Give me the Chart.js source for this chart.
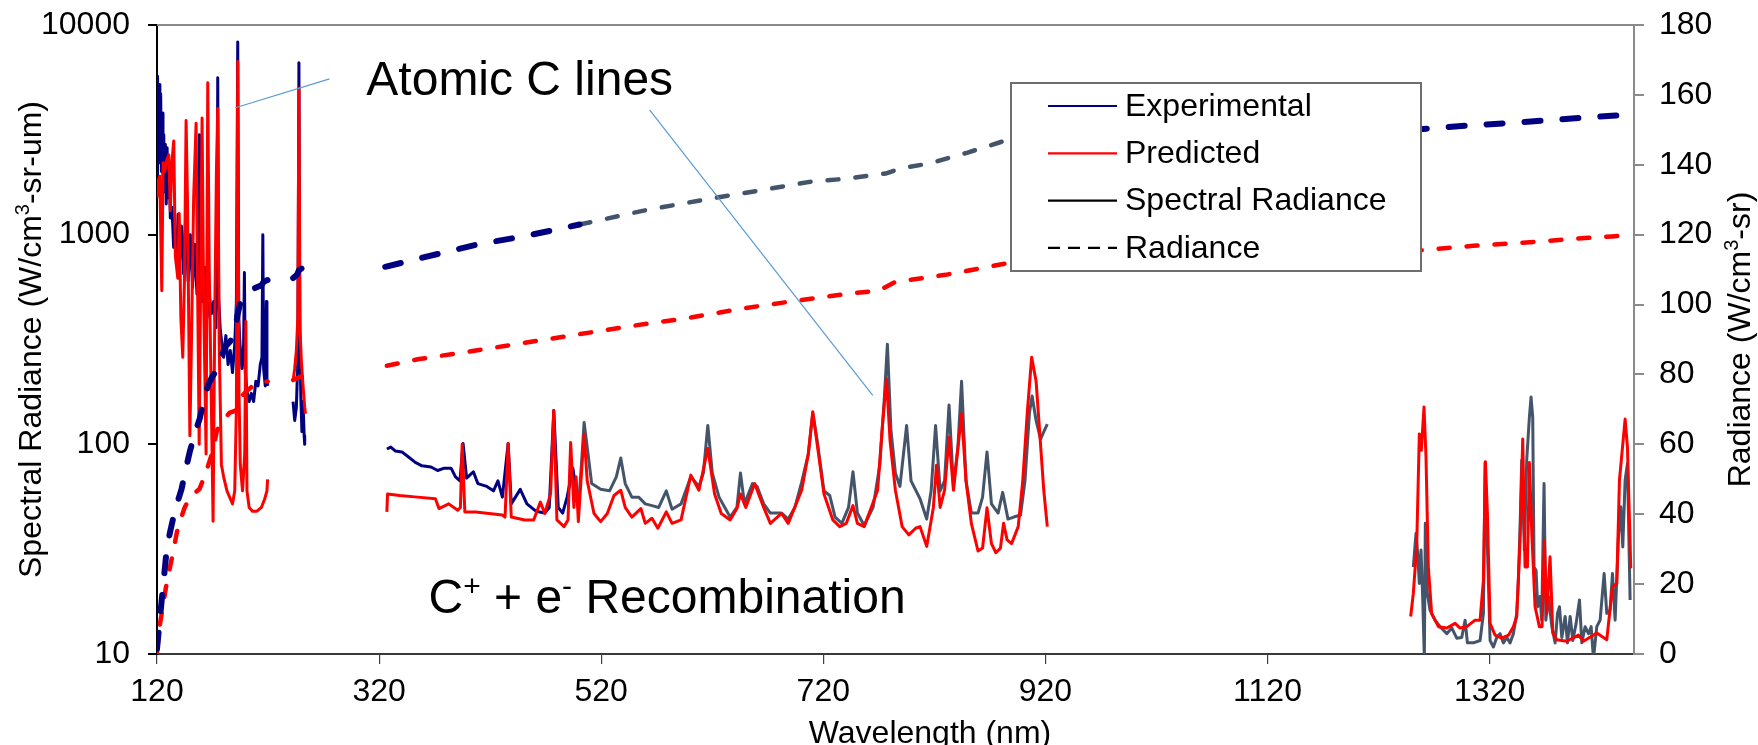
<!DOCTYPE html>
<html>
<head>
<meta charset="utf-8">
<title>Spectral radiance</title>
<script src="https://cdn.jsdelivr.net/npm/chart.js@4.4.1/dist/chart.umd.min.js"></script>
<style>
  html, body { margin: 0; padding: 0; background: #fff; }
  canvas { display: block; }
</style>
</head>
<body>
<canvas id="chart" width="1758" height="745"></canvas>
<script>
const FONT = '"Liberation Sans", Arial, sans-serif';
const NAVY = '#000080';
const RED = '#FF0000';
const SLATE = '#44546A';

const X_TICKS = [120, 320, 520, 720, 920, 1120, 1320];
const Y_TICKS = [10, 100, 1000, 10000];

// experimental spectral radiance, VUV / UV spectrometer (navy)
const expUvWl = [
  120, 120.5, 121.2, 121.9, 122.6, 123.3, 124, 124.7, 125.4, 126.1,
  126.8, 127.5, 128.3, 129.1, 130, 131, 132, 133.5, 135, 136.5,
  137.5, 139, 140, 142, 144, 146, 148, 150, 152, 154,
  156, 157.5, 158.2, 159, 161, 163, 165, 167, 169, 171,
  173, 174, 174.7, 175.5, 177, 178.5, 180, 182, 184, 186,
  188, 190, 191.5, 192.7, 193.6, 195, 196.5, 198, 198.7, 199.5,
  201, 203, 205, 207, 209, 211, 213, 214.5, 215.3, 216,
  217.5, 218.5, 219, 219.8,
  230,
  242.5, 244, 245.5, 246.8, 247.8, 248.5, 249.5, 250.5, 251.5, 252.5, 253,
  290,
  327, 330.5, 334.5, 340.5, 346.5, 352.6, 358.6, 366.7, 372.7, 378.7,
  384.8, 388.8, 392.8, 395.6, 398.8, 404.9, 408.9, 417, 423, 427,
  431, 436.2, 439, 447.1, 453.1, 461.2, 469.2, 473.2, 477.3, 481.3,
  485.3, 489.3, 494.5, 499.4,
];
const expUvVal = [
  1700, 5700, 2500, 5200, 2200, 4700, 2000, 3800, 1900, 3000,
  1600, 2700, 1400, 2600, 1500, 2200, 1200, 1350, 870, 1000,
  720, 1250, 700, 1100, 650, 1300, 600, 1000, 560, 900,
  520, 1200, 3000, 600, 480, 700, 400, 520, 420, 480,
  360, 700, 5600, 500, 350, 300, 260, 330, 240, 280,
  220, 300, 480, 8300, 400, 280, 230, 300, 660, 220,
  180, 160, 175, 160, 200, 190, 240, 260, 1000, 230,
  190, 480, 200, 190,
  null,
  160, 130, 150, 250, 6600, 400, 170, 115, 160, 110, 100,
  null,
  95, 97, 93, 92, 87, 82, 79, 78, 75, 77,
  77, 70, 67, 101, 69, 74, 65, 63, 60, 67,
  56, 101, 52, 61, 52, 48, 47, 50, 145, 50,
  47, 56, 77, 50,
];

// experimental spectral radiance, visible / IR spectrometers (slate)
const expVisWl = [
  499.4, 502.2, 504.6, 507.4, 511.4, 519.5, 527.5, 533.6, 537.6, 541.6,
  547.6, 553.7, 559.7, 565.7, 571.8, 578.6, 583.8, 591.9, 600.7, 608,
  612, 616, 620, 626.1, 636.1, 642.2, 645.4, 649, 656.2, 660.3,
  666.3, 672.3, 682.4, 688.4, 694.4, 700.5, 706.5, 710.5, 714.5, 720.6,
  725.8, 730.6, 736.7, 742.7, 746.7, 750.7, 756.8, 764.8, 770.9, 774.9,
  777.7, 780.9, 784.9, 789, 795, 799, 807.1, 813.1, 817.1, 821.1,
  825.2, 829.2, 833.2, 837.2, 841.2, 844.5, 848.5, 853.3, 859.3, 863.4,
  867.4, 871.4, 877.4, 881.5, 886.3, 891.5, 897.6, 901.6, 905.6, 908,
  911.6, 915.6, 918.9, 921.7,
  1100,
  1251.3, 1253.7, 1255.2, 1256.7, 1258.2, 1259.7, 1261.2, 1262.1, 1263.9, 1266.3,
  1270.8, 1275.4, 1281.4, 1285.9, 1290.4, 1294.9, 1297.9, 1300, 1305.4, 1311.4,
  1314.4, 1315.9, 1318, 1320.4, 1323.4, 1326.4, 1329.4, 1332.4, 1335.4, 1338.4,
  1341.4, 1344.4, 1345.9, 1347.4, 1348.9, 1351.3, 1353.4, 1355.8, 1357.3, 1358.8,
  1360, 1361.8, 1363.3, 1365.4, 1366.9, 1369, 1370.6, 1373, 1376, 1379,
  1381.1, 1382.9, 1385, 1388, 1390.1, 1392.5, 1394.9, 1397.9, 1400.9, 1403,
  1406, 1409, 1411.4, 1413.5, 1416.5, 1419.5, 1423.1, 1425.5, 1428.5, 1430.6,
  1433, 1436, 1438.1, 1439.9, 1442, 1444.1, 1446.5,
];
const expVisVal = [
  50, 80, 127, 97, 65, 61, 60, 70, 86, 65,
  56, 56, 52, 51, 50, 60, 49, 52, 70, 63,
  73, 123, 73, 56, 45, 50, 73, 52, 65, 63,
  52, 47, 47, 44, 50, 66, 90, 141, 104, 60,
  57, 45, 42, 50, 74, 47, 41, 50, 80, 165,
  300, 117, 73, 63, 123, 67, 55, 44, 60, 123,
  60, 67, 154, 63, 97, 200, 67, 47, 47, 56,
  92, 52, 47, 59, 44, 45, 46, 67, 141, 170,
  130, 106, 116, 125,
  null,
  26, 37.6, 30, 21.7, 31.3, 18.8, 9.5, 42, 19.5, 16.2,
  14.5, 13.5, 12.5, 13.3, 11.9, 12, 14.5, 11.3, 11.3, 11.6,
  15.6, 82, 32.4, 11.6, 10.8, 12, 12.5, 11.3, 12, 11.3,
  12.5, 15.6, 22.5, 40.4, 84, 31.3, 84, 135, 168, 135,
  26, 25, 16.8, 18.8, 14.5, 65, 14.5, 18.8, 13.5, 11.3,
  15.6, 16.8, 12, 15.1, 11.3, 15.1, 11.6, 14, 18.1, 11.3,
  13.5, 12.5, 13.5, 9.5, 13.5, 14.5, 24.2, 15.6, 16.2, 24.2,
  14.5, 36.2, 50.4, 32.4, 67.5, 80.9, 18.1,
];

// predicted spectral radiance
const predWl = [
  120, 121, 122.5, 124.3, 125.5, 127, 128.5, 130.6, 132, 133.5,
  135.1, 136.5, 138.7, 140, 141.5, 143.2, 144.7, 146.2, 147.5, 149.6,
  151, 153, 155.2, 156.5, 158, 159.5, 160.6, 162, 164.2, 165.7,
  167, 169, 170.5, 172, 173.5, 174.7, 176, 178, 180, 183,
  186, 188, 190, 191.5, 192.7, 193.8, 195, 197, 199, 200,
  201, 203, 206, 210, 214, 217, 219, 219.6,
  230,
  242.5, 244, 245.5, 246.8, 247.8, 248.8, 250, 251.5, 253, 253.7,
  290,
  327, 327.6, 338.5, 354.6, 370.7, 373.9, 382.7, 390.8, 393.2, 394.8,
  397.2, 406.9, 419, 431, 433.4, 436.2, 439, 451.1, 459.2, 465.2,
  469.2, 474.4, 477.3, 480.1, 486.5, 490.1, 492.5, 495.4, 497.4, 499.4,
  502.2, 504.6, 507.4, 513.5, 519.5, 525.5, 531.5, 537.6, 541.6, 547.6,
  555.7, 559.7, 565.7, 571, 578.6, 583.8, 591.9, 600.7, 608, 616,
  622.1, 628.1, 636.1, 642.2, 645.4, 650.2, 658.2, 666.3, 672.3, 682.4,
  688.4, 700.5, 706.5, 710.5, 714.5, 720.6, 728.6, 734.7, 740.7, 746.7,
  750.7, 756.8, 768.9, 772.9, 776.9, 780.1, 784.9, 791, 797, 803.1,
  807.1, 813.1, 819.1, 821.9, 825.2, 829.2, 833.2, 837.2, 844.5, 848.5,
  853.3, 859.3, 863.4, 867.4, 871.4, 875.4, 879.5, 882.3, 885.5, 889.5,
  895.5, 899.6, 903.6, 907.6, 911.6, 915.6, 918.5, 921.7,
  1100,
  1248.9, 1251.3, 1254.3, 1256.7, 1258.5, 1260.9, 1262.7, 1264.8, 1267.8, 1273.9,
  1281.4, 1288.9, 1293.4, 1299.4, 1306.9, 1311.4, 1314.4, 1316.2, 1318, 1320.4,
  1324.9, 1330.9, 1337, 1341.4, 1344.4, 1347.4, 1349.8, 1351.9, 1354, 1355.8,
  1358, 1360.9, 1364.8, 1367.2, 1369.3, 1371.4, 1374.4, 1376.9, 1380.5, 1389.5,
  1400, 1404.5, 1416.5, 1425.5, 1430.6, 1434.5, 1436.9, 1442, 1444.1, 1447.1,
];
const predVal = [
  1500, 1800, 1900, 540, 2200, 2000, 2250, 2400, 1300, 2250,
  2800, 800, 620, 1260, 400, 260, 600, 3500, 1400, 110,
  300, 1500, 3400, 600, 100, 800, 3600, 500, 90, 5300,
  700, 150, 43, 400, 2000, 4000, 300, 80, 70, 60,
  55, 52, 60, 150, 6700, 180, 80, 60, 90, 385,
  60, 50, 48, 48, 50, 55, 60, 68,
  null,
  200, 230, 280, 400, 5000, 350, 250, 190, 150, 140,
  null,
  47.6, 58, 57, 56, 55, 49.4, 52, 48.5, 50, 100,
  47.6, 47.6, 46.8, 46, 45, 101, 45, 43.6, 43.6, 53,
  46.8, 58, 145, 43.6, 40.5, 43.6, 102, 50, 70, 42.8,
  72.6, 112, 67, 46.8, 42.8, 46.8, 57, 60.4, 50, 45,
  49.4, 42, 44.4, 39.8, 47.6, 42, 43.6, 71.3, 60.4, 95.5,
  58, 46.8, 43.6, 49.4, 58, 50, 65, 50, 42, 46.8,
  42, 60.4, 90, 143, 100, 58, 43.6, 40.5, 42, 51,
  42, 40.5, 60.4, 117, 205, 104, 60.4, 40.5, 37, 39.8,
  40.5, 32.6, 50, 79.5, 50, 60.4, 108, 60.4, 140, 67,
  42, 31, 32, 49.8, 33.6, 30.4, 32, 42, 35, 33.6,
  40.5, 67, 140, 260, 200, 100, 60.4, 40.5,
  null,
  15.1, 19.5, 32.4, 112, 93.6, 150.7, 87, 26, 15.6, 13.5,
  13.3, 14, 13.3, 13.5, 14.5, 14.5, 22.5, 82.5, 46.8, 14,
  12.3, 11.9, 12.3, 13.5, 15.1, 34.9, 106, 26, 26, 82,
  37.6, 16.8, 13.5, 13.5, 34.9, 15.6, 29.1, 12.6, 11.7, 11.5,
  12.3, 11.5, 12.6, 11.7, 20.9, 21.7, 67.5, 132, 97, 25.6,
];

// integrated radiance, right axis
const expRadWl = [
  120, 122, 124, 126, 128.6, 131.5, 134.6, 138, 142.1, 146,
  149.6, 154, 158.6, 162, 166.1, 170, 175.1, 178, 181.1, 186,
  190.1, 192.5, 194.6, 200, 208.1, 214, 216, 219.5,
  230, 242.6, 246, 247.8, 250.1,
  290, 325.5, 360, 410, 450, 500.5,
  1000, 1249, 1300, 1350, 1400, 1430, 1450,
];
const expRadVal = [
  1.5, 8, 14.6, 21, 29.5, 34.5, 38.9, 43, 47.2, 53,
  58, 63, 67.5, 72.5, 77, 79.5, 81.8, 85, 87.8, 89.5,
  91.8, 97, 100, 102, 104.7, 105.5, 106.5, 107,
  null, 107.6, 108.5, 109.8, 110.3,
  null, 110.8, 113.5, 117.3, 119.5, 122.9,
  null, 150, 151.2, 152.2, 153.4, 154, 154.5,
];
const expRadVisWl = [500.5, 560, 627, 660, 707.6, 740, 776, 790, 816, 850, 884.6, 920];
const expRadVisVal = [122.9, 127, 130.8, 132.5, 135.1, 136, 137.5, 139, 140.4, 143.5, 147, 148];

const predRadWl = [
  120, 121, 122.2, 125, 128, 131.2, 135, 138, 141.7, 145,
  150, 158.2, 163, 170.2, 174, 178, 185.2, 190, 192.7, 194,
  200, 209.3, 219.7,
  230, 242.6, 250.1,
  290, 327, 356, 400, 450, 500, 550, 595, 650, 700, 740, 770, 785, 830, 885, 920,
  1000, 1249, 1305, 1350, 1409, 1430, 1450,
];
const predRadVal = [
  0.5, 4, 7.7, 13, 19, 24, 30, 35, 38.9, 42,
  45, 47.2, 51, 58, 64, 66, 69, 69.6, 70, 73,
  75, 77.6, 78,
  null, 78.4, 79.5,
  null, 82.5, 84.4, 86.5, 89, 91.5, 94, 96, 99, 101.3, 103, 104, 106.5, 108.5, 111.8, 112.5,
  null, 115.3, 116.8, 117.7, 119.1, 119.5, 119.9,
];

const LEGEND_ITEMS = [
  { label: 'Experimental', color: NAVY, dash: [] },
  { label: 'Predicted', color: RED, dash: [] },
  { label: 'Spectral Radiance', color: '#000', dash: [] },
  { label: 'Radiance', color: '#000', dash: [12, 8] },
];

function toPoints(wl, val) {
  return wl.map((x, i) => ({ x, y: val[i] }));
}

function fontOf(size) {
  return `${size}px ${FONT}`;
}

// draws text with raised small parts, starting at x (or centred on x)
function drawRich(ctx, parts, x, y, size, center) {
  const subSize = Math.round(size * 0.62);
  const widths = parts.map((p) => {
    ctx.font = fontOf(p.sup ? subSize : size);
    return ctx.measureText(p.t).width;
  });
  const total = widths.reduce((a, b) => a + b, 0);
  let cx = center ? x - total / 2 : x;
  ctx.textAlign = 'left';
  ctx.textBaseline = 'alphabetic';
  parts.forEach((p, i) => {
    ctx.font = fontOf(p.sup ? subSize : size);
    ctx.fillText(p.t, cx, p.sup ? y - size * 0.36 : y);
    cx += widths[i];
  });
}

function drawNotes(chart) {
  const { ctx } = chart;
  const x = chart.scales.x;
  const y = chart.scales.y;
  ctx.save();
  ctx.strokeStyle = '#5B9BD5';
  ctx.lineWidth = 1.2;
  [[190.6, 4030, 275.3, 5530], [563.7, 3925, 764.5, 171]].forEach(([x0, y0, x1, y1]) => {
    ctx.beginPath();
    ctx.moveTo(x.getPixelForValue(x0), y.getPixelForValue(y0));
    ctx.lineTo(x.getPixelForValue(x1), y.getPixelForValue(y1));
    ctx.stroke();
  });
  ctx.fillStyle = '#000';
  drawRich(ctx, [{ t: 'Atomic C lines' }], x.getPixelForValue(308.5), y.getPixelForValue(4640), 48, false);
  drawRich(ctx, [
    { t: 'C' }, { t: '+', sup: true }, { t: ' + e' }, { t: '-', sup: true }, { t: ' Recombination' },
  ], x.getPixelForValue(364.5), y.getPixelForValue(15.7), 48, false);
  ctx.restore();
}

function drawLegendBox(chart) {
  const { ctx } = chart;
  const box = { left: 1011, top: 83, width: 410, height: 188 };
  ctx.save();
  ctx.fillStyle = '#fff';
  ctx.fillRect(box.left, box.top, box.width, box.height);
  ctx.strokeStyle = '#6e6e6e';
  ctx.lineWidth = 2;
  ctx.strokeRect(box.left, box.top, box.width, box.height);
  ctx.font = fontOf(32);
  ctx.textAlign = 'left';
  ctx.textBaseline = 'middle';
  LEGEND_ITEMS.forEach((item, i) => {
    const rowY = 106 + i * 47.3;
    ctx.strokeStyle = item.color;
    ctx.lineWidth = 2.2;
    ctx.setLineDash(item.dash);
    ctx.beginPath();
    ctx.moveTo(1048, rowY);
    ctx.lineTo(1117, rowY);
    ctx.stroke();
    ctx.setLineDash([]);
    ctx.fillStyle = '#000';
    ctx.fillText(item.label, 1125, rowY + 1);
  });
  ctx.restore();
}

function drawAxisTitles(chart) {
  const { ctx, chartArea } = chart;
  const midY = (chartArea.top + chartArea.bottom) / 2;
  ctx.save();
  ctx.fillStyle = '#000';
  drawRich(ctx, [{ t: 'Wavelength (nm)' }], 930, 743, 32, true);

  ctx.save();
  ctx.translate(41, midY);
  ctx.rotate(-Math.PI / 2);
  drawRich(ctx, [{ t: 'Spectral Radiance (W/cm' }, { t: '3', sup: true }, { t: '-sr-um)' }], 0, 0, 32, true);
  ctx.restore();

  ctx.save();
  ctx.translate(1750, midY);
  ctx.rotate(-Math.PI / 2);
  drawRich(ctx, [{ t: 'Radiance (W/cm' }, { t: '3', sup: true }, { t: '-sr)' }], 0, 0, 32, true);
  ctx.restore();
  ctx.restore();
}

const decorPlugin = {
  id: 'decor',
  beforeDatasetsDraw(chart) {
    const { ctx, chartArea: a } = chart;
    ctx.save();
    ctx.strokeStyle = '#8a8a8a';
    ctx.lineWidth = 2;
    ctx.beginPath();
    ctx.moveTo(a.left, a.top);
    ctx.lineTo(a.right, a.top);
    ctx.stroke();
    ctx.restore();
  },
  afterDraw(chart) {
    drawNotes(chart);
    drawLegendBox(chart);
    drawAxisTitles(chart);
  },
};

function spectrum(data, color, width, axis) {
  return {
    data,
    yAxisID: axis,
    borderColor: color,
    borderWidth: width,
    borderJoinStyle: 'round',
    pointRadius: 0,
    spanGaps: false,
    tension: 0,
  };
}

function radiance(data, color, width, dash) {
  return {
    ...spectrum(data, color, width, 'yR'),
    borderDash: dash,
    borderCapStyle: 'round',
  };
}

// first dataset is drawn on top
const datasets = [
  radiance(toPoints(expRadWl, expRadVal), NAVY, 6, [16, 22]),
  radiance(toPoints(expRadVisWl, expRadVisVal), SLATE, 4.5, [11, 17]),
  radiance(toPoints(predRadWl, predRadVal), RED, 4.5, [11, 17]),
  spectrum(toPoints(predWl, predVal), RED, 3, 'y'),
  spectrum(toPoints(expVisWl, expVisVal), SLATE, 3, 'y'),
  spectrum(toPoints(expUvWl, expUvVal), NAVY, 3, 'y'),
];

const tickFont = { family: FONT, size: 32 };

// vertical axes: fixed width, and no extra room above/below for their labels
function fixVertical(width) {
  return (s) => {
    s.width = width;
    s.paddingTop = 0;
    s.paddingBottom = 0;
  };
}

new Chart(document.getElementById('chart'), {
  type: 'line',
  data: { datasets },
  options: {
    responsive: false,
    animation: false,
    devicePixelRatio: 1,
    layout: { padding: { top: 25, left: 0, right: 0, bottom: 0 } },
    plugins: { legend: { display: false }, tooltip: { enabled: false } },
    scales: {
      x: {
        type: 'linear',
        min: 120,
        max: 1450,
        afterBuildTicks: (s) => { s.ticks = X_TICKS.map((value) => ({ value })); },
        afterFit: (s) => { s.height = 91; s.paddingLeft = 0; s.paddingRight = 0; },
        ticks: { font: tickFont, color: '#000', padding: 9, autoSkip: false, maxRotation: 0, callback: (v) => String(v) },
        grid: { drawOnChartArea: false, tickLength: 10, color: '#404040', lineWidth: 1.2 },
        border: { color: '#3a3a3a', width: 2 },
      },
      y: {
        type: 'logarithmic',
        position: 'left',
        min: 10,
        max: 10000,
        afterBuildTicks: (s) => { s.ticks = Y_TICKS.map((value) => ({ value })); },
        afterFit: fixVertical(157),
        ticks: { font: tickFont, color: '#000', padding: 18, autoSkip: false, callback: (v) => String(v) },
        grid: { drawOnChartArea: false, tickLength: 9, color: '#000', lineWidth: 2 },
        border: { color: '#000', width: 2 },
      },
      yR: {
        type: 'linear',
        position: 'right',
        min: 0,
        max: 180,
        afterFit: fixVertical(124),
        ticks: { stepSize: 20, font: tickFont, color: '#000', padding: 15, autoSkip: false },
        grid: { drawOnChartArea: false, tickLength: 10, color: '#8a8a8a', lineWidth: 2 },
        border: { color: '#8a8a8a', width: 2 },
      },
    },
  },
  plugins: [decorPlugin],
});
</script>
</body>
</html>
